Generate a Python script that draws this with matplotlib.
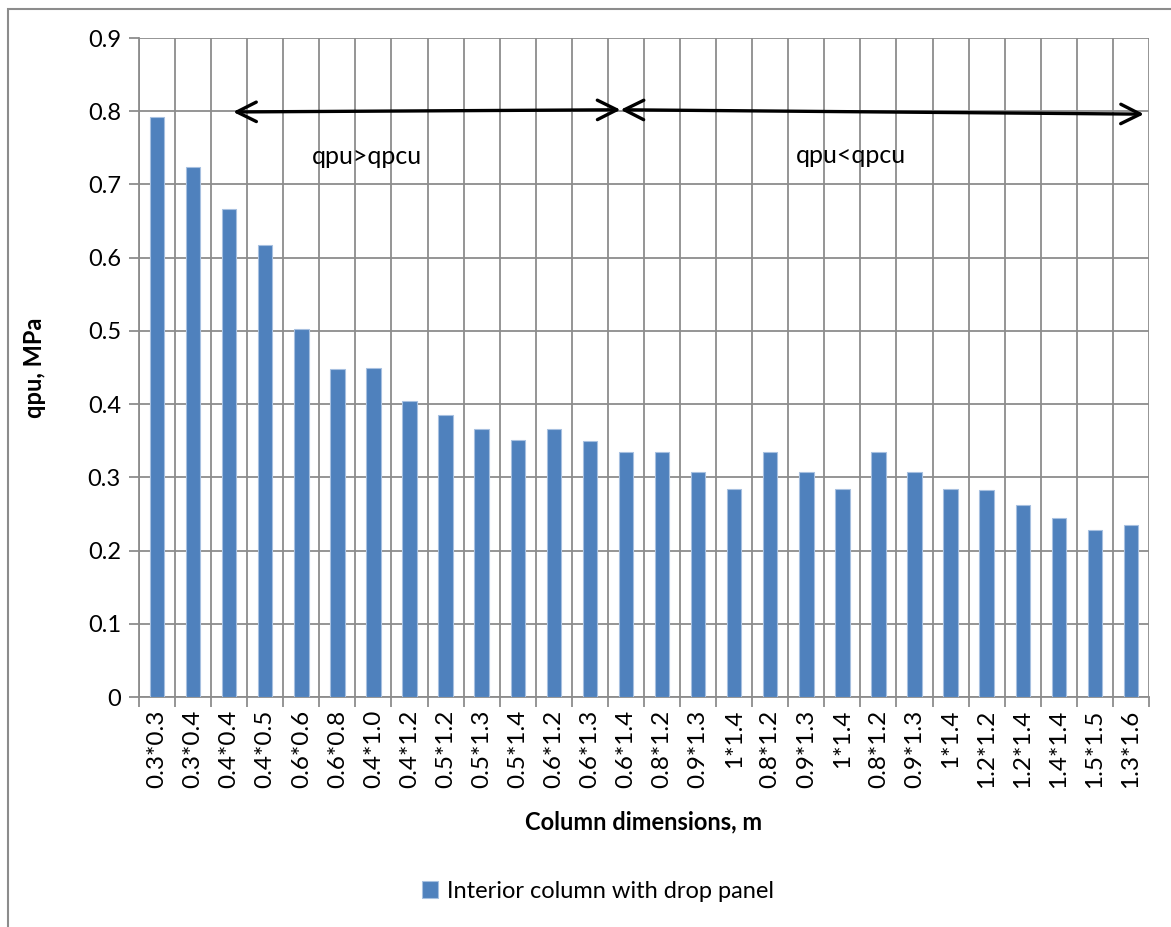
import numpy as np
import matplotlib.pyplot as plt
from matplotlib.patches import Rectangle

# Column sizes (m) and punching stress qpu (MPa)
columns = ["0.3*0.3", "0.3*0.4", "0.4*0.4", "0.4*0.5", "0.6*0.6", "0.6*0.8", "0.4*1.0",
           "0.4*1.2", "0.5*1.2", "0.5*1.3", "0.5*1.4", "0.6*1.2", "0.6*1.3", "0.6*1.4",
           "0.8*1.2", "0.9*1.3", "1*1.4", "0.8*1.2", "0.9*1.3", "1*1.4", "0.8*1.2",
           "0.9*1.3", "1*1.4", "1.2*1.2", "1.2*1.4", "1.4*1.4", "1.5*1.5", "1.3*1.6"]
qpu = [0.792, 0.724, 0.667, 0.617, 0.503, 0.448, 0.449, 0.404, 0.385, 0.366,
       0.351, 0.366, 0.350, 0.335, 0.334, 0.307, 0.284, 0.334, 0.307, 0.284,
       0.334, 0.307, 0.284, 0.283, 0.262, 0.245, 0.228, 0.235]
series_name = "Interior column with drop panel"
region_labels = ["qpu>qpcu", "qpu<qpcu"]

plt.rcParams['font.family'] = ['Lato', 'DejaVu Sans']

fig = plt.figure(figsize=(11.71, 9.27), dpi=100)
ax = fig.add_axes([0.1187, 0.2481, 0.8625, 0.7109])

x = np.arange(len(columns))
bars = ax.bar(x, qpu, width=0.4, color="#4F81BD", edgecolor="#A7C0E0",
              linewidth=0.8, label=series_name, zorder=3)

ax.set_xlim(-0.5, len(columns) - 0.5)
ax.set_ylim(0, 0.9)
ax.set_yticks(np.arange(0, 0.91, 0.1))
ax.set_yticklabels(["0"] + ["%.1f" % v for v in np.arange(0.1, 0.91, 0.1)])
ax.set_xticks(x)
ax.set_xticklabels(columns, rotation=90)
ax.set_xticks(np.arange(-0.5, len(columns), 1.0), minor=True)

grid_col = "#8C8C8C"
ax.grid(True, axis="y", color=grid_col, linewidth=1.3, zorder=0)
ax.grid(True, axis="x", which="minor", color=grid_col, linewidth=1.3, zorder=0)
ax.tick_params(axis="x", which="major", length=0, labelsize=17.5, pad=9)
ax.tick_params(axis="x", which="minor", length=7, width=1.3, color=grid_col)
ax.tick_params(axis="y", length=7, width=1.3, color=grid_col, labelsize=17, pad=6)
for side in ["top", "right"]:
    ax.spines[side].set_visible(False)
ax.spines["left"].set_color(grid_col)
ax.spines["left"].set_linewidth(1.3)
ax.spines["bottom"].set_color(grid_col)
ax.spines["bottom"].set_linewidth(1.3)

ax.set_xlabel("Column dimensions, m", fontsize=17, fontweight="bold", labelpad=16)
ax.set_ylabel("qpu, MPa", fontsize=17, fontweight="bold", labelpad=30)

# double-headed arrows marking the two regions
arrow = dict(arrowstyle="<->,head_length=1.4,head_width=0.7", color="black", lw=2.4,
             shrinkA=0, shrinkB=0)
ax.annotate("", xy=(2.11, 0.799), xytext=(12.85, 0.802), arrowprops=arrow, zorder=5)
ax.annotate("", xy=(12.85, 0.802), xytext=(27.36, 0.796), arrowprops=arrow, zorder=5)
ax.text(5.83, 0.738, region_labels[0], fontsize=18, ha="center", va="center", zorder=5)
ax.text(19.23, 0.740, region_labels[1], fontsize=18, ha="center", va="center", zorder=5)

fig.legend(loc="center", bbox_to_anchor=(598 / 1171, 1 - 891 / 927), frameon=False,
           fontsize=17, handlelength=0.7, handleheight=0.7, handletextpad=0.4)

# outer chart border
fig.patches.append(Rectangle((8 / 1171, -0.1), 1.2, 1.1 - 9 / 927, transform=fig.transFigure,
                             fill=False, edgecolor="#8C8C8C", linewidth=1.5))

fig.savefig("out.png", dpi=100)
